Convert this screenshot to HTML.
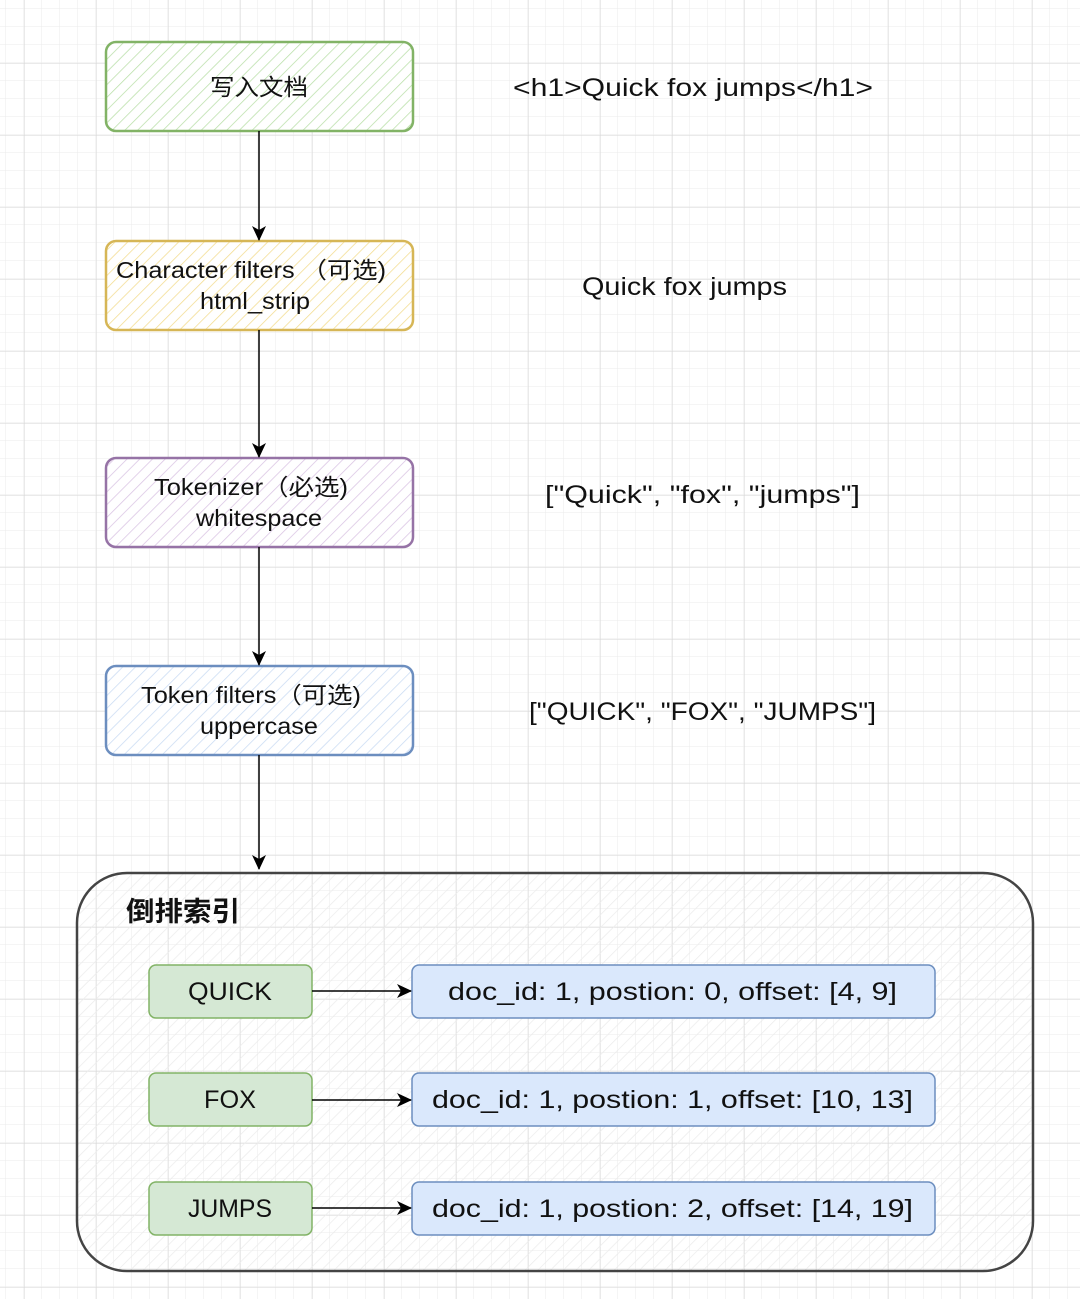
<!DOCTYPE html>
<html><head><meta charset="utf-8"><style>
html,body{margin:0;padding:0;background:#fff}
svg{display:block}
text{font-family:"Liberation Sans","Noto Sans CJK SC",sans-serif;fill:#111}
</style></head><body>
<svg width="1080" height="1299" viewBox="0 0 1080 1299" xmlns="http://www.w3.org/2000/svg">
<defs>
<pattern id="minor" x="6" y="9" width="18" height="18" patternUnits="userSpaceOnUse"><path d="M18 0V18M0 18H18" stroke="#ebebeb" stroke-width="1" fill="none"/></pattern>
<pattern id="major" x="24" y="63" width="72" height="72" patternUnits="userSpaceOnUse"><path d="M0 0V72M0 0H72" stroke="#d6d6d6" stroke-width="1" fill="none"/></pattern>
<pattern id="hg" width="9" height="9" patternUnits="userSpaceOnUse" patternTransform="rotate(45)"><line x1="0" y1="0" x2="0" y2="9" stroke="#b9dfa8" stroke-width="1.5"/></pattern>
<pattern id="hy" width="9" height="9" patternUnits="userSpaceOnUse" patternTransform="rotate(45)"><line x1="0" y1="0" x2="0" y2="9" stroke="#f3dc8e" stroke-width="1.5"/></pattern>
<pattern id="hp" width="9" height="9" patternUnits="userSpaceOnUse" patternTransform="rotate(45)"><line x1="0" y1="0" x2="0" y2="9" stroke="#d9c3e3" stroke-width="1.5"/></pattern>
<pattern id="hb" width="9" height="9" patternUnits="userSpaceOnUse" patternTransform="rotate(45)"><line x1="0" y1="0" x2="0" y2="9" stroke="#c9dbf3" stroke-width="1.5"/></pattern>
<pattern id="hgr" width="9" height="9" patternUnits="userSpaceOnUse" patternTransform="rotate(45)"><line x1="0" y1="0" x2="0" y2="9" stroke="#ececec" stroke-width="1.5"/></pattern>
<marker id="ar" markerWidth="16" markerHeight="16" refX="14" refY="8" orient="auto" markerUnits="userSpaceOnUse"><path d="M0 1L15 8L0 15L4 8Z" fill="#000"/></marker>
</defs>
<rect width="1080" height="1299" fill="url(#minor)"/>
<rect width="1080" height="1299" fill="url(#major)"/>

<rect x="106" y="42" width="307" height="89" rx="10" fill="#fff"/>
<rect x="106" y="42" width="307" height="89" rx="10" fill="url(#hg)" stroke="#82b366" stroke-width="2.5"/>
<text x="210" y="95" font-size="23" textLength="98" lengthAdjust="spacingAndGlyphs">写入文档</text>

<rect x="106" y="241" width="307" height="89" rx="10" fill="#fff"/>
<rect x="106" y="241" width="307" height="89" rx="10" fill="url(#hy)" stroke="#d6b656" stroke-width="2.5"/>
<text x="116" y="278" font-size="23" textLength="270" lengthAdjust="spacingAndGlyphs">Character filters （可选)</text>
<text x="200" y="309" font-size="23" textLength="110" lengthAdjust="spacingAndGlyphs">html_strip</text>

<rect x="106" y="458" width="307" height="89" rx="10" fill="#fff"/>
<rect x="106" y="458" width="307" height="89" rx="10" fill="url(#hp)" stroke="#9673a6" stroke-width="2.5"/>
<text x="154" y="495" font-size="23" textLength="194" lengthAdjust="spacingAndGlyphs">Tokenizer（必选)</text>
<text x="196" y="526" font-size="23" textLength="126" lengthAdjust="spacingAndGlyphs">whitespace</text>

<rect x="106" y="666" width="307" height="89" rx="10" fill="#fff"/>
<rect x="106" y="666" width="307" height="89" rx="10" fill="url(#hb)" stroke="#6c8ebf" stroke-width="2.5"/>
<text x="141" y="703" font-size="23" textLength="220" lengthAdjust="spacingAndGlyphs">Token filters（可选)</text>
<text x="200" y="734" font-size="23" textLength="118" lengthAdjust="spacingAndGlyphs">uppercase</text>

<g stroke="#000" stroke-width="1.5" marker-end="url(#ar)">
<line x1="259" y1="131" x2="259" y2="240"/>
<line x1="259" y1="330" x2="259" y2="457"/>
<line x1="259" y1="547" x2="259" y2="665"/>
<line x1="259" y1="755" x2="259" y2="869"/>
</g>

<text x="513" y="96" font-size="25" textLength="360" lengthAdjust="spacingAndGlyphs">&lt;h1&gt;Quick fox jumps&lt;/h1&gt;</text>
<text x="582" y="295" font-size="25" textLength="205" lengthAdjust="spacingAndGlyphs">Quick fox jumps</text>
<text x="545" y="503" font-size="25" textLength="315" lengthAdjust="spacingAndGlyphs">["Quick", "fox", "jumps"]</text>
<text x="529" y="720" font-size="25" textLength="347" lengthAdjust="spacingAndGlyphs">["QUICK", "FOX", "JUMPS"]</text>

<rect x="77" y="873" width="956" height="398" rx="50" fill="url(#hgr)" stroke="#444" stroke-width="2.5"/>
<text x="126" y="921" font-size="27" font-weight="bold" textLength="114" lengthAdjust="spacingAndGlyphs">倒排索引</text>

<g font-size="25">
<rect x="149" y="965" width="163" height="53" rx="7" fill="#d5e8d4" stroke="#82b366" stroke-width="1.5"/>
<text x="188" y="1000" textLength="84" lengthAdjust="spacingAndGlyphs">QUICK</text>
<rect x="412" y="965" width="523" height="53" rx="7" fill="#dae8fc" stroke="#6c8ebf" stroke-width="1.5"/>
<text x="448" y="1000" textLength="449" lengthAdjust="spacingAndGlyphs">doc_id: 1, postion: 0, offset: [4, 9]</text>

<rect x="149" y="1073" width="163" height="53" rx="7" fill="#d5e8d4" stroke="#82b366" stroke-width="1.5"/>
<text x="204" y="1108" textLength="52" lengthAdjust="spacingAndGlyphs">FOX</text>
<rect x="412" y="1073" width="523" height="53" rx="7" fill="#dae8fc" stroke="#6c8ebf" stroke-width="1.5"/>
<text x="432" y="1108" textLength="481" lengthAdjust="spacingAndGlyphs">doc_id: 1, postion: 1, offset: [10, 13]</text>

<rect x="149" y="1182" width="163" height="53" rx="7" fill="#d5e8d4" stroke="#82b366" stroke-width="1.5"/>
<text x="188" y="1217" textLength="84" lengthAdjust="spacingAndGlyphs">JUMPS</text>
<rect x="412" y="1182" width="523" height="53" rx="7" fill="#dae8fc" stroke="#6c8ebf" stroke-width="1.5"/>
<text x="432" y="1217" textLength="481" lengthAdjust="spacingAndGlyphs">doc_id: 1, postion: 2, offset: [14, 19]</text>
</g>
<g stroke="#000" stroke-width="1.5" marker-end="url(#ar)">
<line x1="312" y1="991" x2="411" y2="991"/>
<line x1="312" y1="1100" x2="411" y2="1100"/>
<line x1="312" y1="1208" x2="411" y2="1208"/>
</g>
</svg>
</body></html>
